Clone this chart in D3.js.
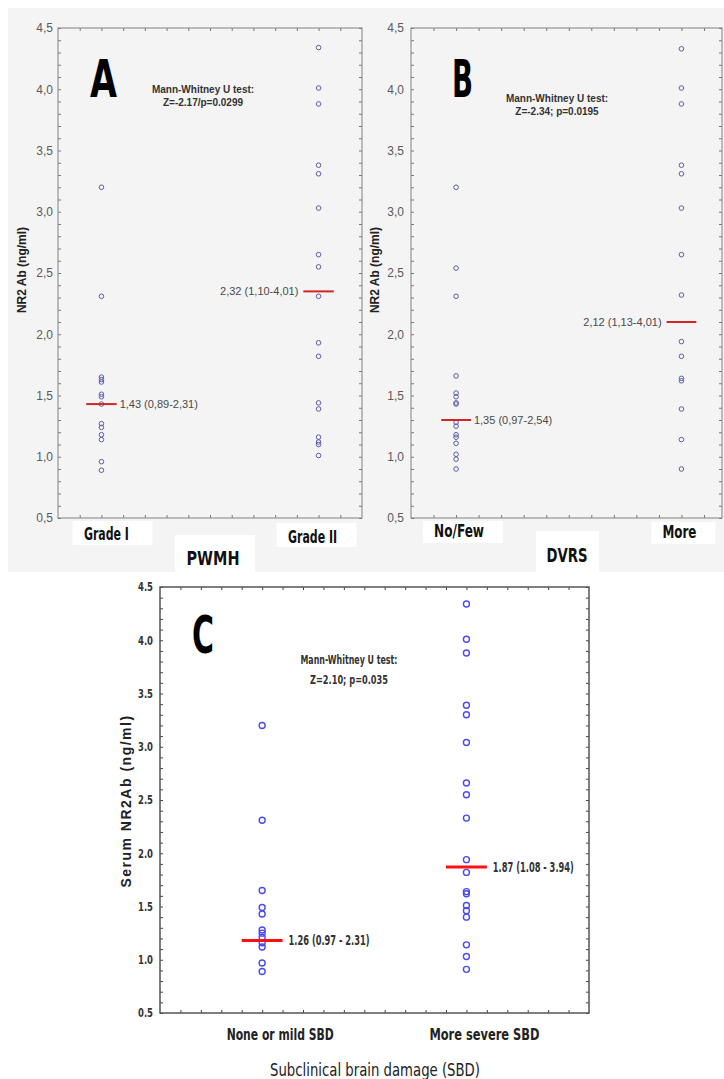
<!DOCTYPE html>
<html><head><meta charset="utf-8">
<script src="https://cdn.jsdelivr.net/npm/d3@7"></script>
<style>html,body{margin:0;padding:0;background:#fff;}svg{display:block;}</style>
</head><body>
<svg id="chart" width="724" height="1079"></svg>
<script>
// ---------- DATA ----------
const yTickValues = [0.5, 1.0, 1.5, 2.0, 2.5, 3.0, 3.5, 4.0, 4.5];
const yTickLabelsAB = ["0,5","1,0","1,5","2,0","2,5","3,0","3,5","4,0","4,5"];
const yTickLabelsC  = ["0.5","1.0","1.5","2.0","2.5","3.0","3.5","4.0","4.5"];

const catsA = ["Grade I", "Grade II"];
const catsB = ["No/Few", "More"];
const catsC = ["None or mild SBD", "More severe SBD"];

const aGradeI  = [3.20, 2.31, 1.65, 1.63, 1.61, 1.51, 1.49, 1.43, 1.27, 1.24, 1.18, 1.14, 0.96, 0.89];
const aGradeII = [4.34, 4.01, 3.88, 3.38, 3.31, 3.03, 2.65, 2.55, 2.31, 1.93, 1.82, 1.44, 1.39, 1.16, 1.12, 1.10, 1.01];
const bNoFew   = [3.20, 2.54, 2.31, 1.66, 1.52, 1.49, 1.44, 1.43, 1.28, 1.25, 1.18, 1.16, 1.11, 1.02, 0.98, 0.90];
const bMore    = [4.33, 4.01, 3.88, 3.38, 3.31, 3.03, 2.65, 2.32, 1.94, 1.82, 1.64, 1.62, 1.39, 1.14, 0.90];
const cNone    = [3.20, 2.31, 1.65, 1.49, 1.43, 1.28, 1.25, 1.21, 1.16, 1.12, 0.97, 0.89];
const cSevere  = [4.34, 4.01, 3.88, 3.39, 3.30, 3.04, 2.66, 2.55, 2.33, 1.94, 1.82, 1.64, 1.62, 1.51, 1.46, 1.40, 1.14, 1.03, 0.91];

const medA = [1.43, 2.35];
const medB = [1.30, 2.10];
const medC = [1.18, 1.87];
const medLabelsA = ["1,43 (0,89-2,31)", "2,32 (1,10-4,01)"];
const medLabelsB = ["1,35 (0,97-2,54)", "2,12 (1,13-4,01)"];
const medLabelsC = ["1.26 (0.97 - 2.31)", "1.87 (1.08 - 3.94)"];

const statsA = ["Mann-Whitney U test:", "Z=-2.17/p=0.0299"];
const statsB = ["Mann-Whitney U test:", "Z=-2.34; p=0.0195"];
const statsC = ["Mann-Whitney U test:", "Z=2.10; p=0.035"];

const yTitleAB = "NR2 Ab (ng/ml)";
const yTitleC  = "Serum NR2Ab (ng/ml)";
const xTitleA = "PWMH", xTitleB = "DVRS", xTitleC = "Subclinical brain damage (SBD)";
const letters = ["A", "B", "C"];

// ---------- STYLE / LAYOUT ----------
const ARIAL = "'Liberation Sans', Arial, sans-serif";
const NARROW = "'Liberation Sans Narrow', 'Arial Narrow', 'DejaVu Sans Condensed', sans-serif";

// squeeze a text element to a given rendered width
function fit(sel, w) {
  if (w) sel.attr("textLength", w).attr("lengthAdjust", "spacingAndGlyphs");
  return sel;
}

const svg = d3.select("#chart");
svg.append("rect").attr("x",0).attr("y",0).attr("width",724).attr("height",1079).attr("fill","#fff");
svg.append("rect").attr("x",8).attr("y",8).attr("width",716).attr("height",564).attr("fill","#f4f4f4");

const panels = [
  { letter: letters[0], cats: catsA, groups: [aGradeI, aGradeII], med: medA, medLabels: medLabelsA, stats: statsA,
    yTitle: yTitleAB, xTitle: xTitleA, tickLabels: yTickLabelsAB, style: "ab",
    left: 58, right: 362, top: 28, bottom: 518, xDomain: [0.8, 2.2], xTicks: d3.range(9, 22).map(d => d/10),
    letterPos: [90, 97], letterW: 27, statsPos: [203, 93], yTitleX: 26, tickPad: 5,
    medHalf: 0.07, medLabelSide: ["right", "left"],
    catBoxes: [{dx:-29, w:80, y:521, h:24, tdx:5, ty:540, tw:45}, {dx:-42, w:80, y:523, h:24, tdx:-6, ty:543, tw:49}],
    titleBox: {x:175, w:80, y:535, h:37, tx:213, ty:565, tw:53} },
  { letter: letters[1], cats: catsB, groups: [bNoFew, bMore], med: medB, medLabels: medLabelsB, stats: statsB,
    yTitle: yTitleAB, xTitle: xTitleB, tickLabels: yTickLabelsAB, style: "ab",
    left: 411, right: 722, top: 28, bottom: 518, xDomain: [0.8, 2.18], xTicks: d3.range(9, 22).map(d => d/10),
    letterPos: [452, 97], letterW: 21, statsPos: [557, 102], yTitleX: 379, tickPad: 7,
    medHalf: 0.066, medLabelSide: ["right", "left"],
    catBoxes: [{dx:-33, w:80, y:521, h:22, tdx:3, ty:537, tw:50}, {dx:-30, w:64, y:522, h:22, tdx:-2, ty:538, tw:34}],
    titleBox: {x:536, w:63, y:531, h:41, tx:567, ty:562, tw:41} },
  { letter: letters[2], cats: catsC, groups: [cNone, cSevere], med: medC, medLabels: medLabelsC, stats: statsC,
    yTitle: yTitleC, xTitle: xTitleC, tickLabels: yTickLabelsC, style: "c",
    left: 160, right: 589, top: 587, bottom: 1013, xDomain: [0.5, 2.6], xTicks: d3.range(6, 26).map(d => d/10),
    letterPos: [192, 653], letterW: 22, statsPos: [349, 664], yTitleX: 131, tickPad: 7,
    medHalf: 0.1, medLabelSide: ["right", "right"],
    statsW: [97, 78], medW: [81, 81], catW: [107, 110], xTitleW: 210, tickW: 15 }
];

const minorY = d3.range(5, 46).map(d => d/10);

panels.forEach(p => {
  const isC = p.style === "c";
  const g = svg.append("g");
  const x = d3.scaleLinear().domain(p.xDomain).range([p.left, p.right]);
  const y = d3.scaleLinear().domain([0.5, 4.5]).range([p.bottom, p.top]);
  const catX = [1, 2];
  const frameColor = isC ? "#555" : "#808080";
  const tickColor = isC ? "#444" : "#777";

  // minor ticks on all 4 sides, inward
  const tickAxes = [
    [d3.axisLeft(y).tickValues(minorY), `translate(${p.left},0)`],
    [d3.axisRight(y).tickValues(minorY), `translate(${p.right},0)`],
    [d3.axisBottom(x).tickValues(p.xTicks), `translate(0,${p.bottom})`],
    [d3.axisTop(x).tickValues(p.xTicks), `translate(0,${p.top})`]
  ];
  tickAxes.forEach(([ax, tr]) => {
    const a = g.append("g").attr("transform", tr)
      .call(ax.tickSize(-3).tickFormat(""));
    a.select(".domain").remove();
    a.selectAll("line").attr("stroke", tickColor).attr("stroke-width", 1);
  });

  // major y labels
  const yl = g.append("g").attr("transform", `translate(${p.left},0)`)
    .call(d3.axisLeft(y).tickValues(yTickValues).tickSize(0).tickPadding(p.tickPad)
      .tickFormat((d, i) => p.tickLabels[i]));
  yl.select(".domain").remove();
  yl.selectAll("text")
    .attr("font-family", isC ? NARROW : ARIAL)
    .attr("font-weight", isC ? "bold" : "normal")
    .attr("font-size", 12)
    .attr("fill", isC ? "#333" : "#5a5a5a");
  if (isC) yl.selectAll("text").call(s => fit(s, p.tickW));

  // frame
  g.append("rect").attr("x", p.left).attr("y", p.top)
    .attr("width", p.right - p.left).attr("height", p.bottom - p.top)
    .attr("fill", "none").attr("stroke", frameColor).attr("stroke-width", isC ? 1.5 : 1);

  // points
  p.groups.forEach((vals, gi) => {
    g.append("g").selectAll("circle").data(vals).join("circle")
      .attr("cx", x(catX[gi])).attr("cy", d => y(d))
      .attr("r", isC ? 3 : 2.3)
      .attr("fill", "none")
      .attr("stroke", isC ? "#4a4af5" : "#5c5caa")
      .attr("stroke-width", isC ? 1.4 : 1);
  });

  // median lines + labels
  p.med.forEach((m, gi) => {
    const x0 = x(catX[gi] - p.medHalf), x1 = x(catX[gi] + p.medHalf);
    g.append("line").attr("x1", x0).attr("x2", x1).attr("y1", y(m)).attr("y2", y(m))
      .attr("stroke", isC ? "#ff1010" : "#d42424").attr("stroke-width", isC ? 3 : 2);
    const right = p.medLabelSide[gi] === "right";
    const t = g.append("text")
      .attr("x", right ? x1 + (isC ? 6 : 3) : x0 - 5)
      .attr("y", y(m)).attr("dy", "0.35em")
      .attr("text-anchor", right ? "start" : "end")
      .attr("font-family", isC ? NARROW : ARIAL)
      .attr("font-weight", isC ? "bold" : "normal")
      .attr("font-size", isC ? 13.5 : 11)
      .attr("fill", isC ? "#333" : "#4a4a4a")
      .text(p.medLabels[gi]);
    if (isC) fit(t, p.medW[gi]);
  });

  // stats text
  p.stats.forEach((s, i) => {
    const t = g.append("text").attr("x", p.statsPos[0]).attr("y", p.statsPos[1] + i * (isC ? 20 : 13))
      .attr("text-anchor", "middle")
      .attr("font-family", isC ? NARROW : ARIAL)
      .attr("font-weight", "bold")
      .attr("font-size", isC ? 13 : 10)
      .attr("fill", "#333")
      .text(s);
    if (isC) fit(t, p.statsW[i]);
  });

  // big letter
  fit(g.append("text").attr("x", p.letterPos[0]).attr("y", p.letterPos[1])
    .attr("font-family", NARROW).attr("font-weight", "bold").attr("font-size", 51)
    .attr("fill", "#000").text(p.letter), p.letterW);

  // y title
  const yc = (p.top + p.bottom) / 2 + (isC ? 1 : -3);
  g.append("text").attr("transform", `translate(${p.yTitleX},${yc}) rotate(-90)`)
    .attr("text-anchor", "middle")
    .attr("font-family", ARIAL).attr("font-weight", "bold")
    .attr("font-size", isC ? 14 : 12)
    .attr("letter-spacing", isC ? 1.5 : 0)
    .attr("fill", "#222")
    .text(p.yTitle);

  // category labels
  if (!isC) {
    p.cats.forEach((c, gi) => {
      const b = p.catBoxes[gi];
      const cx = x(catX[gi]);
      g.append("rect").attr("x", cx + b.dx).attr("y", b.y).attr("width", b.w).attr("height", b.h).attr("fill", "#fff");
      fit(g.append("text").attr("x", cx + b.tdx).attr("y", b.ty).attr("text-anchor", "middle")
        .attr("font-family", NARROW).attr("font-weight", "bold").attr("font-size", 17)
        .attr("fill", "#111").text(c), b.tw);
    });
    const tb = p.titleBox;
    g.append("rect").attr("x", tb.x).attr("y", tb.y).attr("width", tb.w).attr("height", tb.h).attr("fill", "#fff");
    fit(g.append("text").attr("x", tb.tx).attr("y", tb.ty).attr("text-anchor", "middle")
      .attr("font-family", NARROW).attr("font-weight", "bold").attr("font-size", 19)
      .attr("fill", "#111").text(p.xTitle), tb.tw);
  } else {
    p.cats.forEach((c, gi) => {
      fit(g.append("text").attr("x", x(catX[gi]) + 18).attr("y", 1040).attr("text-anchor", "middle")
        .attr("font-family", NARROW).attr("font-weight", "bold").attr("font-size", 16)
        .attr("fill", "#222").text(c), p.catW[gi]);
    });
    fit(g.append("text").attr("x", 375).attr("y", 1076).attr("text-anchor", "middle")
      .attr("font-family", NARROW).attr("font-size", 17.5)
      .attr("fill", "#222").text(p.xTitle), p.xTitleW);
  }
});
</script>
</body></html>
